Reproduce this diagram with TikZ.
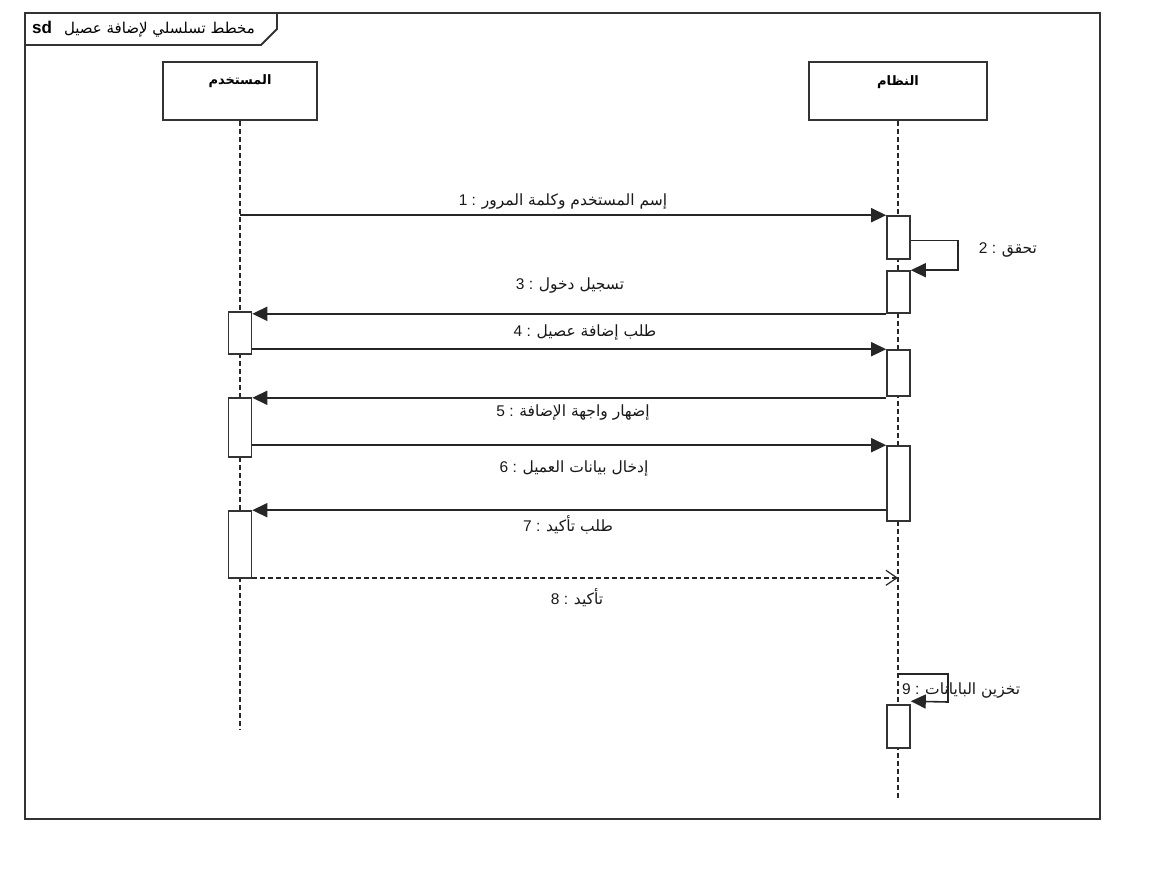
\documentclass[tikz,border=0pt]{standalone}
\usepackage{fontspec}
\setmainfont{Liberation Sans}
\newfontfamily\arabicfont[Script=Arabic]{DejaVu Sans}
\TeXXeTstate=1
\usetikzlibrary{arrows.meta,calc}
\newcommand{\artxt}[1]{{\arabicfont\beginR #1\endR}}
\begin{document}
\begin{tikzpicture}[x=1pt,y=-1pt,
  frame/.style={draw=black!80, line width=1.8pt},
  lifebox/.style={draw=black!80, line width=1.8pt, fill=white, minimum height=58, inner sep=0},
  headlbl/.style={font=\fontsize{13}{15}\selectfont\bfseries, inner sep=1pt},
  lifeline/.style={draw=black!85, line width=1.5pt, dash pattern=on 5pt off 3pt},
  act/.style={draw=black!80, line width=1.6pt, fill=white, minimum width=23, inner sep=0},
  msg/.style={draw=black!85, line width=1.6pt, -{Triangle[length=15pt,width=14pt]}},
  reply/.style={draw=black!85, line width=1.4pt, dash pattern=on 5pt off 3pt, -{Straight Barb[length=11pt,width=15pt,line width=1.2pt]}},
  lbl/.style={font=\fontsize{15.5}{18}\selectfont, inner sep=1pt, text=black!90}
]
\useasboundingbox (0,0) rectangle (1165,881);
\fill[white] (0,0) rectangle (1165,881);

% frame
\draw[frame] (25,13) rectangle (1100,819);
\draw[frame, fill=white] (25,13) -- (277,13) -- (277,29) -- (261,45) -- (25,45) -- cycle;
\node[anchor=west, inner sep=0, font=\fontsize{15}{17}\selectfont] (title) at (32,29)
  {\textbf{\fontsize{17}{19}\selectfont sd}\hspace{12pt}\artxt{مخطط تسلسلي لإضافة عصيل}};

% lifeline heads
\node[lifebox, minimum width=154] (user) at (240,91) {};
\node[lifebox, minimum width=178] (sys) at (898,91) {};
\node[headlbl] (userlbl) at (240,81) {\artxt{\bfseries المستخدم}};
\node[headlbl] (syslbl) at (898,82) {\artxt{\bfseries النظام}};

\coordinate (uend) at (240,730);
\coordinate (send) at (898,800);
\draw[lifeline] (user.south) -- (uend);
\draw[lifeline] (sys.south) -- (send);

% activations
\node[act, minimum height=43] (sa1) at (898.5,237.5) {};
\node[act, minimum height=42] (sa2) at (898.5,292) {};
\node[act, minimum height=46] (sa3) at (898.5,373) {};
\node[act, minimum height=75] (sa4) at (898.5,483.5) {};
\node[act, minimum height=43] (sa5) at (898.5,726.5) {};
\node[act, minimum height=42] (ua1) at (240,333) {};
\node[act, minimum height=59] (ua2) at (240,427.5) {};
\node[act, minimum height=67] (ua3) at (240,544.5) {};

% messages
\draw[msg] (sa1.north west -| user.south) -- (sa1.north west);
\node[lbl] (l1) at (563,202) {1 : \artxt{إسم المستخدم وكلمة المرور}};

\draw[msg] ($(sa1.east)+(0,3)$) -- ++(47,0) |- (sa2.north east);
\node[lbl] (l2) at (1008,250) {2 : \artxt{تحقق}};

\draw[msg] (sa2.south west) -- (sa2.south west -| ua1.east);
\node[lbl] (l3) at (570,285) {3 : \artxt{تسجيل دخول}};

\draw[msg] (sa3.north west -| ua1.east) -- (sa3.north west);
\node[lbl] (l4) at (585,332) {4 : \artxt{طلب إضافة عصيل}};

\draw[msg] ($(sa3.south west)+(0,1)$) -- ($(sa3.south west -| ua2.east)+(0,1)$);
\node[lbl] (l5) at (573,412) {5 : \artxt{إضهار واجهة الإضافة}};

\draw[msg] (sa4.north west -| ua2.east) -- (sa4.north west);
\node[lbl] (l6) at (574,468) {6 : \artxt{إدخال بيانات العميل}};

\draw[msg] (ua3.north east -| sa4.west) -- (ua3.north east);
\node[lbl] (l7) at (568,525) {7 : \artxt{طلب تأكيد}};

\draw[reply] ($(ua3.south east)+(0,-1)$) -- ($(ua3.south east -| send)+(0,-1)$);
\node[lbl] (l8) at (577,598) {8 : \artxt{تأكيد}};

\coordinate (s9) at (898,674);
\draw[msg] (s9) -- (948,674) -- (948,702) -- ($(sa5.north east)+(0,-3)$);
\node[lbl, anchor=west] (l9) at (901,690) {9 : \artxt{تخزين البايانات}};
\end{tikzpicture}
\end{document}
